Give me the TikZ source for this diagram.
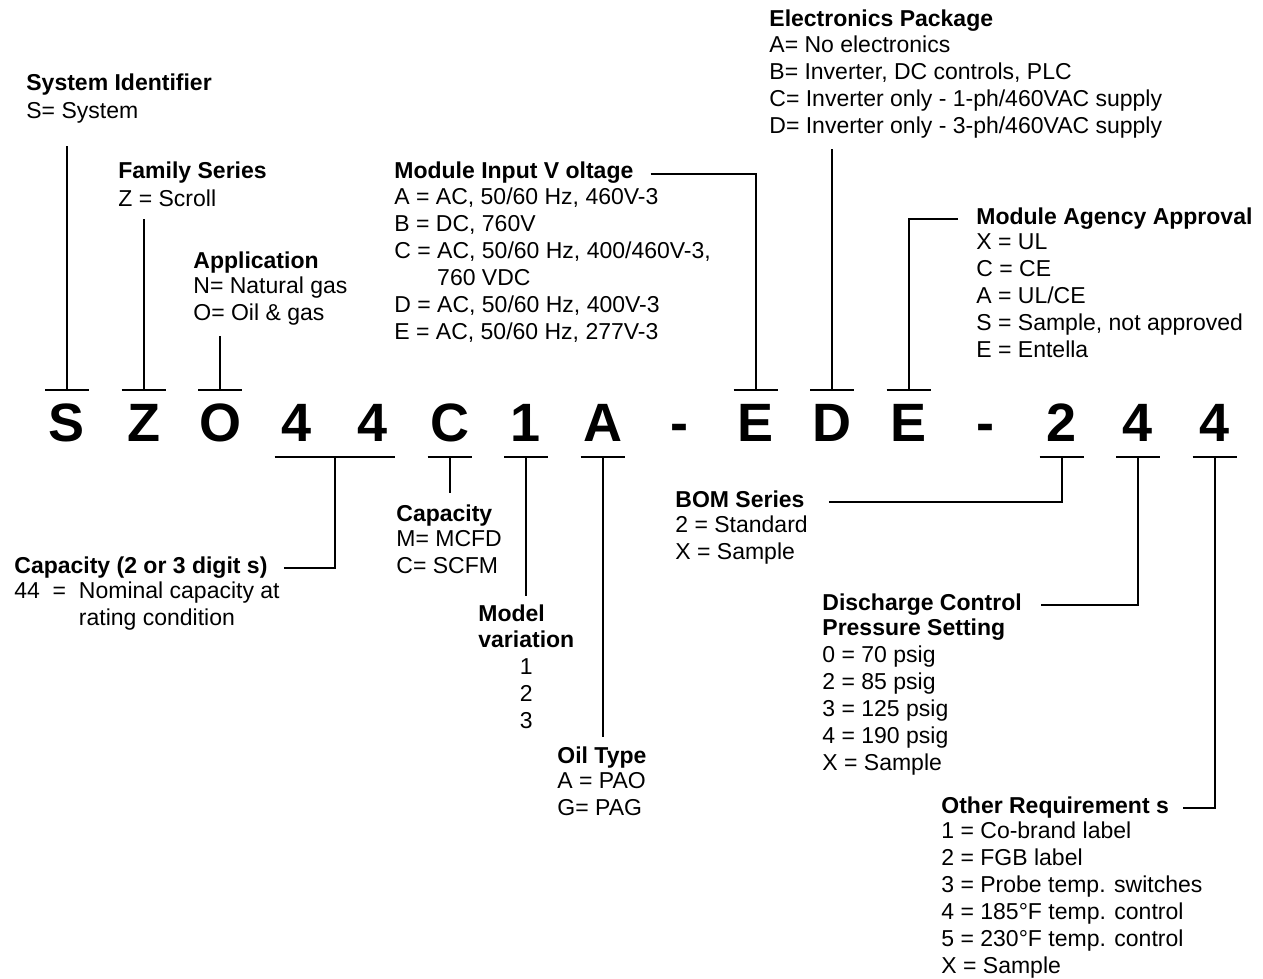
\documentclass[tikz,border=0pt]{standalone}
\usepackage{fontspec}
\setmainfont{Liberation Sans}
\usetikzlibrary{positioning, calc}
\newcommand{\legendsize}{\fontsize{11.5}{13.5}\selectfont}

\begin{document}
\begin{tikzpicture}[x=0.5pt, y=-0.5pt,
    legend/.style={anchor=north west, inner sep=0pt, align=left,
      font=\legendsize,
      execute at begin node=\strut, execute at end node=\strut},
    heading/.style={legend, font=\legendsize\bfseries},
    codechar/.style={anchor=base, inner xsep=0pt, inner ysep=6pt,
      text height=19.5pt, text depth=2pt,
      font=\fontsize{27}{32}\selectfont\bfseries},
    lead/.style={line width=1pt},
    tick/.style={line width=1pt},
]
\useasboundingbox (0,0) rectangle (1263,979);
\foreach \ch [count=\i from 0] in {S,Z,O,4,4,C,1,A,-,E,D,E,-,2,4,4}
    \node[codechar] (c\i) at ({67+76.5*\i},441) {\ch};

\node[heading] (sysid) at (26, 71.1) {System Identifier};
\node[legend] (sysidb) at (sysid.south west) {S= System};
\node[heading] (family) at (118, 159.6) {Family Series};
\node[legend] (familyb) at (family.south west) {Z = Scroll};
\node[heading] (appl) at (193, 249.1) {Application};
\node[legend] (applb) at (appl.south west) {N= Natural gas\\O= Oil \& gas};
\node[heading] (vin) at (394, 159.6) {Module Input V oltage};
\node[legend] (vinb) at (vin.south west)
    {A = AC, 50/60 Hz, 460V-3\\B = DC, 760V\\C = AC, 50/60 Hz, 400/460V-3,\\
     \phantom{C = }760 VDC\\D = AC, 50/60 Hz, 400V-3\\E = AC, 50/60 Hz, 277V-3};
\node[heading] (elec) at (769, 7.6) {Electronics Package};
\node[legend] (elecb) at (elec.south west)
    {A= No electronics\\B= Inverter, DC controls, PLC\\
     C= Inverter only - 1-ph/460VAC supply\\D= Inverter only - 3-ph/460VAC supply};
\node[heading] (agency) at (976, 205.1) {Module Agency Approval};
\node[legend] (agencyb) at (agency.south west)
    {X = UL\\C = CE\\A = UL/CE\\S = Sample, not approved\\E = Entella};

\node[heading] (cap44) at (14, 554.1) {Capacity (2 or 3 digit s)};
\node[legend] (cap44b) at (cap44.south west)
    {44\ \ =\ \ Nominal capacity at\\\phantom{44\ \ =\ \ }rating condition};
\node[heading] (capu) at (396, 502.6) {Capacity};
\node[legend] (capub) at (capu.south west) {M= MCFD\\C= SCFM};
\node[heading] (model) at (478, 602.6) {Model};
\node[legend, align=center] (modelb) at (model.south west)
    {\textbf{variation}\\1\\2\\3};
\node[heading] (oil) at (557, 744.6) {Oil Type};
\node[legend] (oilb) at (oil.south west) {A = PAO\\G= PAG};
\node[heading] (bom) at (675, 488.1) {BOM Series};
\node[legend] (bomb) at (bom.south west) {2 = Standard\\X = Sample};
\node[heading] (disch) at (822, 591.1) {Discharge Control};
\node[legend] (dischb) at (disch.south west)
    {\textbf{Pressure Setting}\\0 = 70 psig\\2 = 85 psig\\3 = 125 psig\\
     4 = 190 psig\\X = Sample};
\node[heading] (other) at (941, 794.1) {Other Requirement s};
\node[legend] (otherb) at (other.south west)
    {1 = Co-brand label\\2 = FGB label\\3 = Probe temp. switches\\
     4 = 185°F temp. control\\5 = 230°F temp. control\\X = Sample};

\foreach \i in {0,1,2,9,10,11}
    \draw[tick] ([xshift=-11pt]c\i.north) -- ([xshift=11pt]c\i.north);
\foreach \i in {5,6,7,13,14,15}
    \draw[tick] ([xshift=-11pt]c\i.south) -- ([xshift=11pt]c\i.south);
\draw[tick] ([xshift=-11pt]c3.south) -- ([xshift=11pt]c4.south);

\draw[lead, shorten >=9.5pt] (c0.north) -- (c0.north |- sysidb.south);
\draw[lead, shorten >=1.7pt] (c1.north) -- (c1.north |- familyb.south);
\draw[lead, shorten >=3.5pt] (c2.north) -- (c2.north |- applb.south);
\draw[lead] ([xshift=8.5pt]vin.east) -| (c9.north);
\draw[lead, shorten >=3.7pt] (c10.north) -- (c10.north |- elecb.south);
\draw[lead] ([xshift=-9pt]agency.west) -| (c11.north);
\draw[lead] ([xshift=8pt]cap44.east) -| ($(c3.south)!0.5!(c4.south)$);
\draw[lead, shorten >=4.8pt] (c5.south) -- (c5.south |- capu.north);
\draw[lead, shorten >=3.3pt] (c6.south) -- (c6.south |- model.north);
\draw[lead, shorten >=3.8pt] (c7.south) -- (c7.south |- oil.north);
\draw[lead] ([xshift=12pt]bom.east) -| (c13.south);
\draw[lead] ([xshift=9.5pt]disch.east) -| (c14.south);
\draw[lead] ([xshift=7pt]other.east) -| (c15.south);
\end{tikzpicture}
\end{document}
